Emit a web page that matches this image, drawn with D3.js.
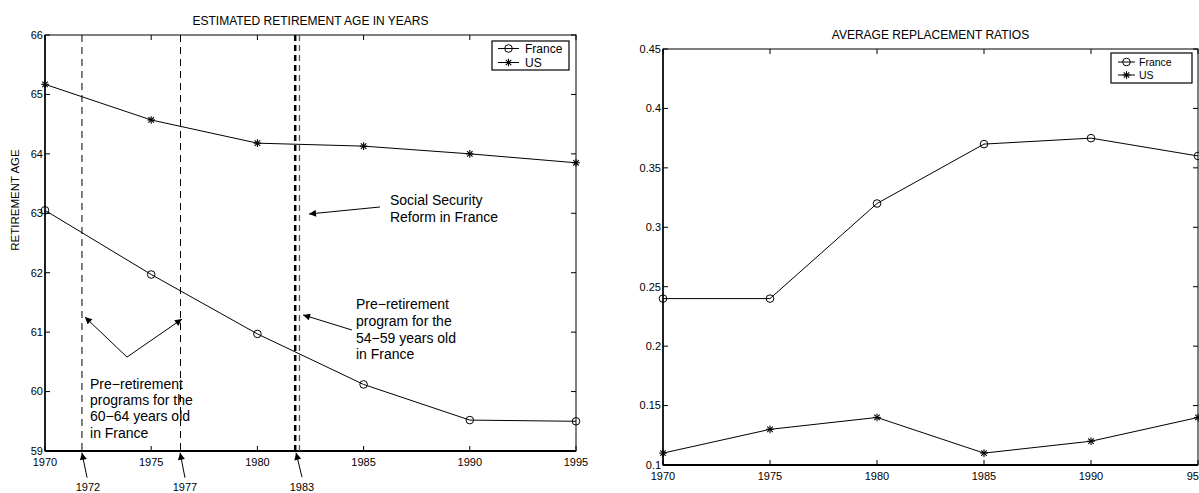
<!DOCTYPE html>
<html><head><meta charset="utf-8">
<script src="https://cdn.jsdelivr.net/npm/d3@7"></script>
<style>
body{margin:0;background:#fff;}
svg{display:block;font-family:"Liberation Sans",Arial,Helvetica,sans-serif;}
</style></head>
<body><svg id="c" width="1199" height="493"></svg>
<script>
const years = [1970, 1975, 1980, 1985, 1990, 1995];
const ageFrance = [63.05, 61.97, 60.97, 60.12, 59.52, 59.50];
const ageUS = [65.17, 64.57, 64.18, 64.13, 64.00, 63.85];
const ratioFrance = [0.24, 0.24, 0.32, 0.37, 0.375, 0.36];
const ratioUS = [0.11, 0.13, 0.14, 0.11, 0.12, 0.14];
const ageTicks = [59, 60, 61, 62, 63, 64, 65, 66];
const ratioTicks = [0.1, 0.15, 0.2, 0.25, 0.3, 0.35, 0.4, 0.45];
const yearTicks = [1970, 1975, 1980, 1985, 1990, 1995];
const seriesNames = ["France", "US"];
const reformYears = [1971.74, 1976.38, 1981.78, 1981.98];
const reformLabels = ["1972", "1977", "1983"];

const svg = d3.select("#c");

svg.append("defs").append("marker")
  .attr("id","ah").attr("viewBox","0 0 10 10").attr("refX",10).attr("refY",5)
  .attr("markerWidth",8).attr("markerHeight",7).attr("markerUnits","userSpaceOnUse")
  .attr("orient","auto")
  .append("path").attr("d","M0,0 L10,5 L0,10 z").attr("fill","#000");

function star(g, x, y){
  const r = 3.8;
  const s = g.append("g").attr("transform",`translate(${x},${y})`)
    .attr("stroke","#000").attr("stroke-width",1.1);
  s.append("line").attr("x1",-r).attr("x2",r).attr("y1",0).attr("y2",0);
  s.append("line").attr("x1",0).attr("x2",0).attr("y1",-r).attr("y2",r);
  const d = r*0.72;
  s.append("line").attr("x1",-d).attr("x2",d).attr("y1",-d).attr("y2",d);
  s.append("line").attr("x1",-d).attr("x2",d).attr("y1",d).attr("y2",-d);
}
function circ(g, x, y){
  g.append("circle").attr("cx",x).attr("cy",y).attr("r",3.8)
    .attr("fill","none").attr("stroke","#000").attr("stroke-width",1);
}

function panel(opts){
  const {x0,x1,y0,y1,yDomain,yTicks,yFmt,title,titleY,s1,s2,legend,lastLabel} = opts;
  const x = d3.scaleLinear().domain([1970,1995]).range([x0,x1]);
  const y = d3.scaleLinear().domain(yDomain).range([y1,y0]);
  const g = svg.append("g");
  const tl = 5;
  yTicks.forEach(t=>{
    g.append("line").attr("x1",x0).attr("x2",x0+tl).attr("y1",y(t)).attr("y2",y(t)).attr("stroke","#000");
    g.append("line").attr("x1",x1).attr("x2",x1-tl).attr("y1",y(t)).attr("y2",y(t)).attr("stroke","#000");
    g.append("text").attr("x",x0-2).attr("y",y(t)).attr("dy","0.35em")
      .attr("text-anchor","end").attr("font-size",11).text(yFmt(t));
  });
  yearTicks.forEach((t,i)=>{
    g.append("line").attr("x1",x(t)).attr("x2",x(t)).attr("y1",y1).attr("y2",y1-tl).attr("stroke","#000");
    g.append("line").attr("x1",x(t)).attr("x2",x(t)).attr("y1",y0).attr("y2",y0+tl).attr("stroke","#000");
    if(lastLabel && i===yearTicks.length-1){
      g.append("text").attr("x",x(t)+1).attr("y",y1+11).attr("dy","0.35em")
        .attr("text-anchor","end").attr("font-size",11).text(lastLabel);
    } else {
      g.append("text").attr("x",x(t)).attr("y",y1+11).attr("dy","0.35em")
        .attr("text-anchor","middle").attr("font-size",11).text(t);
    }
  });
  g.append("rect").attr("x",x0).attr("y",y0).attr("width",x1-x0).attr("height",y1-y0)
    .attr("fill","none").attr("stroke","#000").attr("stroke-width",1);
  g.append("line").attr("x1",x0).attr("x2",x1).attr("y1",y1).attr("y2",y1).attr("stroke","#000").attr("stroke-width",2);
  g.append("line").attr("x1",x0).attr("x2",x0).attr("y1",y0).attr("y2",y1).attr("stroke","#000").attr("stroke-width",1.5);
  g.append("text").attr("x",(x0+x1)/2).attr("y",titleY).attr("dy","0.35em")
    .attr("text-anchor","middle").attr("font-size",12).text(title);

  const line = d3.line().x((d,i)=>x(years[i])).y(d=>y(d));
  g.append("path").attr("d",line(s1)).attr("fill","none").attr("stroke","#000").attr("stroke-width",1);
  g.append("path").attr("d",line(s2)).attr("fill","none").attr("stroke","#000").attr("stroke-width",1);
  s1.forEach((v,i)=>circ(g,x(years[i]),y(v)));
  s2.forEach((v,i)=>star(g,x(years[i]),y(v)));

  const L = legend;
  g.append("rect").attr("x",L.x).attr("y",L.y).attr("width",L.w).attr("height",L.h)
    .attr("fill","#fff").attr("stroke","#000").attr("stroke-width",1.2);
  seriesNames.forEach((n,i)=>{
    const yy = L.y + L.r0 + i*L.dr;
    g.append("line").attr("x1",L.x+L.l0).attr("x2",L.x+L.l1).attr("y1",yy).attr("y2",yy).attr("stroke","#000");
    if(i===0) circ(g,L.x+(L.l0+L.l1)/2,yy); else star(g,L.x+(L.l0+L.l1)/2,yy);
    g.append("text").attr("x",L.x+L.tx).attr("y",yy).attr("dy","0.35em")
      .attr("font-size",L.fs).text(n);
  });
  return {x,y,g};
}

const A = panel({x0:45,x1:576,y0:35,y1:451,yDomain:[59,66],yTicks:ageTicks,yFmt:d=>d,
  title:"ESTIMATED RETIREMENT AGE IN YEARS",titleY:21,s1:ageFrance,s2:ageUS,
  legend:{x:492,y:41,w:77,h:29,r0:7.5,dr:14,l0:6,l1:27,tx:33,fs:12}});

const B = panel({x0:663,x1:1198,y0:49,y1:465,yDomain:[0.1,0.45],yTicks:ratioTicks,yFmt:d=>String(+d.toFixed(2)),
  title:"AVERAGE REPLACEMENT RATIOS",titleY:35,s1:ratioFrance,s2:ratioUS,lastLabel:"95",
  legend:{x:1111,y:53,w:81,h:30,r0:9,dr:13,l0:7,l1:24,tx:28,fs:10.5}});

svg.append("text").attr("transform","translate(15,200) rotate(-90)").attr("dy","0.35em")
  .attr("text-anchor","middle").attr("font-size",11.5).text("RETIREMENT AGE");

const ax = A.x, ay = A.y, ag = A.g;
const vStyles = [
  {w:1,c:"#000",da:"7,5"},
  {w:1,c:"#000",da:"7,5"},
  {w:2.5,c:"#000",da:"6,4"},
  {w:1.3,c:"#555",da:"6,4"}
];
reformYears.forEach((yr,i)=>{
  ag.append("line").attr("x1",ax(yr)).attr("x2",ax(yr)).attr("y1",ay(66)).attr("y2",ay(59))
    .attr("stroke",vStyles[i].c).attr("stroke-width",vStyles[i].w).attr("stroke-dasharray",vStyles[i].da);
});

function arrow(a,b){
  ag.append("line").attr("x1",ax(a[0])).attr("y1",ay(a[1])).attr("x2",ax(b[0])).attr("y2",ay(b[1]))
    .attr("stroke","#000").attr("stroke-width",1).attr("marker-end","url(#ah)");
}
function textBlock(xy, lines){
  lines.forEach((t,i)=>{
    ag.append("text").attr("x",ax(xy[0])).attr("y",ay(xy[i+1])).attr("dy","0.35em")
      .attr("font-size",14).text(t);
  });
}
textBlock([1986.24,63.22,62.94],["Social Security","Reform in France"]);
arrow([1985.77,63.106],[1982.43,62.988]);
textBlock([1984.64,61.47,61.19,60.90,60.63],["Pre\u2212retirement","program for the","54\u221259 years old","in France"]);
arrow([1984.45,61.036],[1982.15,61.29]);
textBlock([1972.12,60.13,59.86,59.59,59.30],["Pre\u2212retirement","programs for the","60\u221264 years old","in France"]);
arrow([1973.86,60.58],[1971.88,61.255]);
arrow([1973.86,60.58],[1976.45,61.22]);

const labPos = [[1972.02,58.40,1971.98,58.55,1971.74],[1976.59,58.40,1976.59,58.55,1976.36],[1982.10,58.40,1982.10,58.56,1981.82]];
reformLabels.forEach((t,i)=>{
  const p = labPos[i];
  ag.append("text").attr("x",ax(p[0])).attr("y",ay(p[1])).attr("dy","0.35em")
    .attr("text-anchor","middle").attr("font-size",11).text(t);
  arrow([p[2],p[3]],[p[4],58.97]);
});
</script></body></html>
